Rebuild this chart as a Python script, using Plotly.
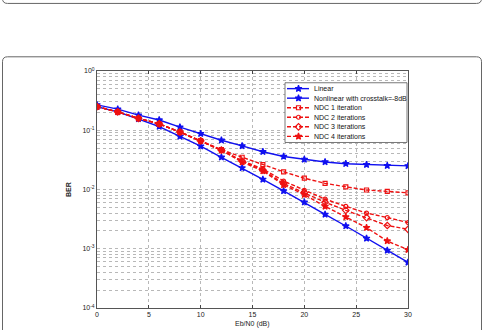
import plotly.graph_objects as go

snr = [0, 2, 4, 6, 8, 10, 12, 14, 16, 18, 20, 22, 24, 26, 28, 30]
linear = [0.25, 0.204, 0.155, 0.1155, 0.079, 0.054, 0.035, 0.0231, 0.0148, 0.0095, 0.0061, 0.0038, 0.00242, 0.0015, 0.00094, 0.00059]
nonlinear = [0.268, 0.227, 0.180, 0.149, 0.113, 0.0875, 0.0678, 0.0544, 0.0433, 0.036, 0.0323, 0.0292, 0.0272, 0.0263, 0.0252, 0.0250]
ndc1 = [0.25, 0.204, 0.159, 0.128, 0.094, 0.067, 0.047, 0.035, 0.0263, 0.0199, 0.0155, 0.0127, 0.0111, 0.0098, 0.0093, 0.0088]
ndc2 = [0.25, 0.204, 0.159, 0.128, 0.093, 0.066, 0.046, 0.0305, 0.0222, 0.0139, 0.0097, 0.0069, 0.0052, 0.0040, 0.00336, 0.00277]
ndc3 = [0.25, 0.204, 0.159, 0.128, 0.093, 0.066, 0.046, 0.0300, 0.0213, 0.0126, 0.0089, 0.0061, 0.00445, 0.00336, 0.00247, 0.00213]
ndc4 = [0.25, 0.204, 0.159, 0.128, 0.093, 0.066, 0.046, 0.0290, 0.0205, 0.0120, 0.0082, 0.0052, 0.00344, 0.00227, 0.00135, 0.00096]

names = ["Linear", "Nonlinear with crosstalk=-8dB", "NDC 1 iteration",
         "NDC 2 iterations", "NDC 3 iterations", "NDC 4 iterations"]
series = [linear, nonlinear, ndc1, ndc2, ndc3, ndc4]

x_ticks = [0, 5, 10, 15, 20, 25, 30]
decades = [-4, -3, -2, -1, 0]

BLUE = "#1010f0"
RED = "#ee1111"
DASH = "4px,2px"
styles = [
    dict(color=BLUE, dash="solid", symbol="star", size=5),
    dict(color=BLUE, dash="solid", symbol="star", size=5),
    dict(color=RED, dash=DASH, symbol="square-open", size=4),
    dict(color=RED, dash=DASH, symbol="circle-open", size=4),
    dict(color=RED, dash=DASH, symbol="diamond-open", size=5),
    dict(color=RED, dash=DASH, symbol="star", size=5),
]

# plot-area geometry (px)
L, R, T, B = 97, 408, 71, 313
W, H = 484, 330

def px(x):
    return (x - L) / (R - L)

def py(y):
    return (B - y) / (B - T)

fig = go.Figure()
for name, vals, st in zip(names, series, styles):
    fig.add_trace(go.Scatter(
        x=snr, y=vals, mode="lines+markers", name=name, showlegend=False,
        line=dict(color=st["color"], width=1.4, dash=st["dash"]),
        marker=dict(symbol=st["symbol"], size=st["size"], color=st["color"],
                    line=dict(color=st["color"], width=1.2)),
    ))

# custom legend on an overlay pixel axis
lx0, lx1, ly0, ly1 = 285, 407, 83, 144
fig.add_trace(go.Scatter(
    x=[lx0, lx1, lx1, lx0, lx0], y=[ly0, ly0, ly1, ly1, ly0],
    xaxis="x2", yaxis="y2", mode="lines", fill="toself",
    fillcolor="white", line=dict(color="#555", width=0.8),
    showlegend=False, hoverinfo="skip"))
for i, (name, st) in enumerate(zip(names, styles)):
    yy = 89 + i * 9.75
    fig.add_trace(go.Scatter(
        x=[287, 309], y=[yy, yy], xaxis="x2", yaxis="y2", mode="lines",
        line=dict(color=st["color"], width=1.4, dash=st["dash"]),
        showlegend=False, hoverinfo="skip"))
    fig.add_trace(go.Scatter(
        x=[298.5], y=[yy], xaxis="x2", yaxis="y2", mode="markers",
        marker=dict(symbol=st["symbol"], size=st["size"], color=st["color"],
                    line=dict(color=st["color"], width=1.2)),
        showlegend=False, hoverinfo="skip"))
    fig.add_annotation(x=312, y=yy, xref="x2", yref="y2", text=name,
                       showarrow=False, xanchor="left", yanchor="middle",
                       font=dict(size=7, color="#111"))

y_major = [10.0 ** d for d in decades]
y_major_text = [f"10<sup>{d}</sup>" for d in decades]
y_minor = [m * 10.0 ** d for d in decades[:-1] for m in range(2, 10)]

GRIDC = "#b8b8b8"
fig.update_layout(
    width=W, height=H, margin=dict(l=L, r=W - R, t=T, b=H - B),
    paper_bgcolor="white", plot_bgcolor="white",
    font=dict(family="Liberation Sans, Arial, sans-serif", size=7, color="#222"),
    xaxis=dict(range=[0, 30], tickvals=x_ticks, ticks="inside", ticklen=3,
               showline=True, linecolor="#555", linewidth=1, mirror="ticks",
               zeroline=False, tickfont=dict(size=7),
               showgrid=True, gridcolor=GRIDC, griddash="dot", gridwidth=0.8),
    yaxis=dict(type="log", range=[-4, 0], tickvals=y_major, ticktext=y_major_text,
               ticks="", showline=True, linecolor="#555", linewidth=1,
               mirror=True, zeroline=False, tickfont=dict(size=7),
               showgrid=True, gridcolor=GRIDC, griddash="dot", gridwidth=0.8,
               minor=dict(tickvals=y_minor, showgrid=True, gridcolor=GRIDC,
                          griddash="dot", gridwidth=0.8, ticks="")),
    xaxis2=dict(overlaying="x", range=[L, R], visible=False, fixedrange=True),
    yaxis2=dict(overlaying="y", range=[B, T], visible=False, fixedrange=True),
)

fig.add_annotation(x=px(63), y=0.5, xref="paper", yref="paper", text="<b>BER</b>",
                   textangle=-90, showarrow=False, font=dict(size=7))
fig.add_annotation(x=0.5, y=py(323), xref="paper", yref="paper", text="Eb/N0 (dB)",
                   showarrow=False, font=dict(size=7), yanchor="top")

# outer rounded frames
r = 5
def rr_path(x0, y0, x1, y1, rad):
    return (f"M {px(x0)},{py(y1)} L {px(x0)},{py(y0 + rad)} "
            f"Q {px(x0)},{py(y0)} {px(x0 + rad)},{py(y0)} "
            f"L {px(x1 - rad)},{py(y0)} Q {px(x1)},{py(y0)} {px(x1)},{py(y0 + rad)} "
            f"L {px(x1)},{py(y1)}")
fig.add_shape(type="path", xref="paper", yref="paper",
              path=rr_path(2.5, 56.5, 481.5, 345, r), line=dict(color="#666", width=1))
top = (f"M {px(2.5)},{py(-10)} L {px(2.5)},{py(2 - r)} "
       f"Q {px(2.5)},{py(2)} {px(2.5 + r)},{py(2)} "
       f"L {px(481.5 - r)},{py(2)} Q {px(481.5)},{py(2)} {px(481.5)},{py(2 - r)} "
       f"L {px(481.5)},{py(-10)}")
fig.add_shape(type="path", xref="paper", yref="paper", path=top,
              line=dict(color="#666", width=1))

fig.write_html("out.html")
